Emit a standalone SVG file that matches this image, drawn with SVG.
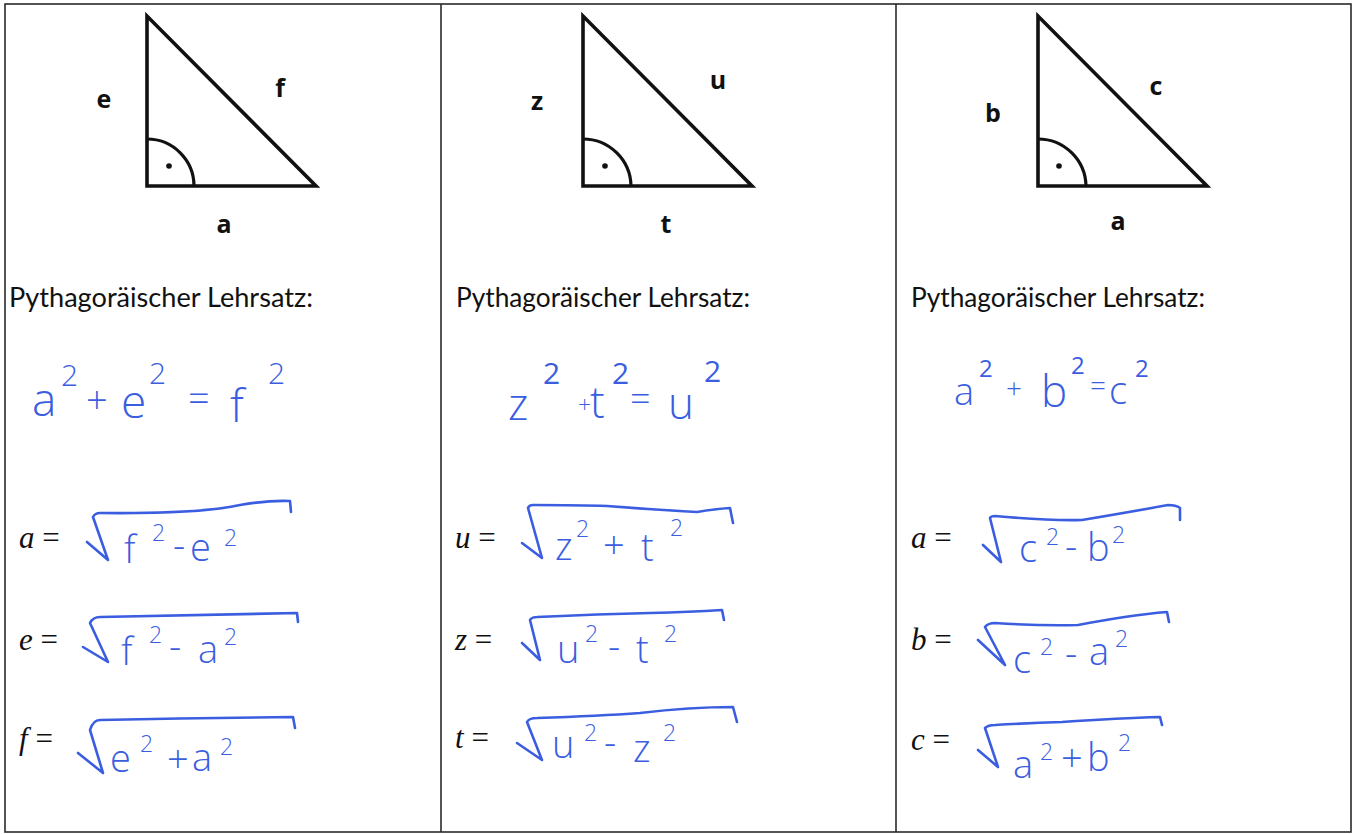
<svg xmlns="http://www.w3.org/2000/svg" width="1357" height="834" viewBox="0 0 1357 834">
<style>
.frame{fill:none;stroke:#2a2a2a;stroke-width:1.6}
.tri{fill:none;stroke:#111;stroke-width:3.6;stroke-linejoin:miter}
.arc{fill:none;stroke:#111;stroke-width:3.2}
.lbl{font-family:"Open Sans","Liberation Sans",sans-serif;font-weight:bold;font-size:25px;fill:#111;text-anchor:middle}
.head{font-family:Lato,"Open Sans",sans-serif;font-size:26px;fill:#111}
.mlab{font-family:"Liberation Serif","Times New Roman",serif;font-style:italic;font-size:31px;fill:#111}
.meq{font-style:normal}
.hw{font-family:"Open Sans","DejaVu Sans",sans-serif;font-weight:400;fill:#3b5de0}
.big{font-size:46px;font-weight:300}
.mid{font-size:38px;font-weight:300}
.sup{font-size:23px}
.supb{font-size:30px}
.rad{fill:none;stroke:#3b5de0;stroke-width:2.6;stroke-linecap:round;stroke-linejoin:round}
</style>
<rect class="frame" x="5" y="4" width="1346" height="828"/>
<line class="frame" x1="441" y1="4" x2="441" y2="832"/>
<line class="frame" x1="896" y1="4" x2="896" y2="832"/>

<g id="col1">
  <g id="tri1">
    <polygon class="tri" points="147,16 147,186 316,186"/>
    <path class="arc" d="M147,139 A47,47 0 0 1 194,186"/>
    <circle cx="169" cy="166" r="2.8" fill="#111"/>
    <text class="lbl" x="104" y="108">e</text>
    <text class="lbl" x="280" y="97">f</text>
    <text class="lbl" x="224" y="233">a</text>
  </g>
  <text class="head" x="9" y="307" textLength="304" lengthAdjust="spacingAndGlyphs">Pythagoräischer Lehrsatz:</text>
  <text class="hw big"><tspan x="32" y="416">a</tspan><tspan class="supb" x="61" y="386">2</tspan><tspan class="mid" x="86" y="414">+</tspan><tspan x="121" y="418">e</tspan><tspan class="supb" x="149" y="384">2</tspan><tspan class="mid" x="188" y="412">=</tspan><tspan x="230" y="422">f</tspan><tspan class="supb" x="268" y="384">2</tspan></text>
  <g id="r1a">
    <text class="mlab" x="19" y="548">a <tspan class="meq">=</tspan></text>
    <path class="rad" d="M87,542 L108,560 L93,517 Q95,513 100,513 Q200,514 240,505 Q270,500 290,501 L291,512"/>
    <text class="hw mid"><tspan x="124" y="563">f</tspan><tspan class="sup" x="152" y="541">2</tspan><tspan x="173" y="559">-</tspan><tspan x="190" y="561">e</tspan><tspan class="sup" x="224" y="546">2</tspan></text>
  </g>
  <g id="r1b">
    <text class="mlab" x="19" y="650">e <tspan class="meq">=</tspan></text>
    <path class="rad" d="M83,647 L108,662 L90,623 Q93,617 100,617 Q200,615 297,613 L298,622"/>
    <text class="hw mid"><tspan x="121" y="665">f</tspan><tspan class="sup" x="149" y="643">2</tspan><tspan x="169" y="660">-</tspan><tspan x="198" y="663">a</tspan><tspan class="sup" x="224" y="645">2</tspan></text>
  </g>
  <g id="r1c">
    <text class="mlab" x="19" y="749">f <tspan class="meq">=</tspan></text>
    <path class="rad" d="M78,753 L103,773 L90,730 Q93,720 100,720 Q200,718 293,717 L295,728"/>
    <text class="hw mid"><tspan x="110" y="772">e</tspan><tspan class="sup" x="140" y="752">2</tspan><tspan x="167" y="773">+</tspan><tspan x="192" y="771">a</tspan><tspan class="sup" x="220" y="755">2</tspan></text>
  </g>
</g>

<g id="col2">
  <g id="tri2">
    <polygon class="tri" points="583,16 583,186 752,186"/>
    <path class="arc" d="M583,139 A48,48 0 0 1 631,186"/>
    <circle cx="605" cy="166" r="2.8" fill="#111"/>
    <text class="lbl" x="537" y="110">z</text>
    <text class="lbl" x="718" y="89">u</text>
    <text class="lbl" x="666" y="233">t</text>
  </g>
  <text class="head" x="456" y="307" textLength="294" lengthAdjust="spacingAndGlyphs">Pythagoräischer Lehrsatz:</text>
  <text class="hw" style="font-size:44px;font-weight:300"><tspan x="508" y="420">z</tspan><tspan class="supb" style="font-weight:400" x="543" y="384">2</tspan><tspan class="sup" x="578" y="413">+</tspan><tspan x="590" y="418">t</tspan><tspan class="supb" style="font-weight:400" x="612" y="384">2</tspan><tspan style="font-size:36px" x="630" y="412">=</tspan><tspan x="668" y="419">u</tspan><tspan class="supb" style="font-weight:400" x="704" y="382">2</tspan></text>
  <g id="r2a">
    <text class="mlab" x="455" y="548">u <tspan class="meq">=</tspan></text>
    <path class="rad" d="M522,543 L542,558 L528,508 Q529,505 533,505 Q580,505 607,506 Q660,510 697,512 Q715,509 730,508 L733,523"/>
    <text class="hw mid"><tspan x="555" y="560">z</tspan><tspan class="sup" x="576" y="537">2</tspan><tspan x="603" y="559">+</tspan><tspan x="641" y="561">t</tspan><tspan class="sup" x="670" y="536">2</tspan></text>
  </g>
  <g id="r2b">
    <text class="mlab" x="455" y="650">z <tspan class="meq">=</tspan></text>
    <path class="rad" d="M522,643 L540,660 L530,620 Q532,617 537,617 Q600,614 650,613 Q690,612 722,610 L724,620"/>
    <text class="hw mid"><tspan x="557" y="663">u</tspan><tspan class="sup" x="585" y="642">2</tspan><tspan x="608" y="660">-</tspan><tspan x="636" y="663">t</tspan><tspan class="sup" x="664" y="642">2</tspan></text>
  </g>
  <g id="r2c">
    <text class="mlab" x="455" y="748">t <tspan class="meq">=</tspan></text>
    <path class="rad" d="M517,743 L542,760 L527,722 Q529,718 537,718 Q600,716 640,713 Q690,707 733,707 L737,722"/>
    <text class="hw mid"><tspan x="552" y="758">u</tspan><tspan class="sup" x="584" y="741">2</tspan><tspan x="604" y="756">-</tspan><tspan x="633" y="762">z</tspan><tspan class="sup" x="663" y="741">2</tspan></text>
  </g>
</g>

<g id="col3">
  <g id="tri3">
    <polygon class="tri" points="1038,16 1038,186 1207,186"/>
    <path class="arc" d="M1038,139 A48,48 0 0 1 1086,186"/>
    <circle cx="1059" cy="166" r="2.8" fill="#111"/>
    <text class="lbl" x="993" y="122">b</text>
    <text class="lbl" x="1156" y="95">c</text>
    <text class="lbl" x="1118" y="230">a</text>
  </g>
  <text class="head" x="911" y="307" textLength="294" lengthAdjust="spacingAndGlyphs">Pythagoräischer Lehrsatz:</text>
  <text class="hw" style="font-size:38px;font-weight:300"><tspan x="954" y="405">a</tspan><tspan class="sup" style="font-size:24px;font-weight:400" x="979" y="377">2</tspan><tspan class="sup" style="font-size:28px" x="1006" y="398">+</tspan><tspan style="font-size:44px" x="1041" y="407">b</tspan><tspan class="sup" style="font-size:24px;font-weight:400" x="1071" y="374">2</tspan><tspan class="sup" style="font-size:28px" x="1090" y="396">=</tspan><tspan x="1109" y="404">c</tspan><tspan class="sup" style="font-size:24px;font-weight:400" x="1135" y="377">2</tspan></text>
  <g id="r3a">
    <text class="mlab" x="911" y="548">a <tspan class="meq">=</tspan></text>
    <path class="rad" d="M983,545 L1001,562 L990,518 Q991,516 995,516 Q1050,521 1082,520 Q1130,512 1168,505 Q1176,505 1180,508 L1180,520"/>
    <text class="hw mid"><tspan x="1019" y="562">c</tspan><tspan class="sup" x="1046" y="545">2</tspan><tspan x="1065" y="560">-</tspan><tspan x="1087" y="561">b</tspan><tspan class="sup" x="1112" y="543">2</tspan></text>
  </g>
  <g id="r3b">
    <text class="mlab" x="911" y="650">b <tspan class="meq">=</tspan></text>
    <path class="rad" d="M978,640 L1005,665 L985,627 Q988,623 995,623 Q1040,626 1078,625 Q1130,615 1167,612 L1169,622"/>
    <text class="hw mid"><tspan x="1013" y="673">c</tspan><tspan class="sup" x="1040" y="655">2</tspan><tspan x="1065" y="667">-</tspan><tspan x="1089" y="665">a</tspan><tspan class="sup" x="1115" y="647">2</tspan></text>
  </g>
  <g id="r3c">
    <text class="mlab" x="911" y="750">c <tspan class="meq">=</tspan></text>
    <path class="rad" d="M978,750 L998,767 L985,728 Q988,725 995,725 Q1030,723 1062,722 Q1120,718 1160,717 L1162,725"/>
    <text class="hw mid"><tspan x="1013" y="778">a</tspan><tspan class="sup" x="1040" y="760">2</tspan><tspan x="1061" y="772">+</tspan><tspan x="1087" y="771">b</tspan><tspan class="sup" x="1118" y="751">2</tspan></text>
  </g>
</g>
</svg>
